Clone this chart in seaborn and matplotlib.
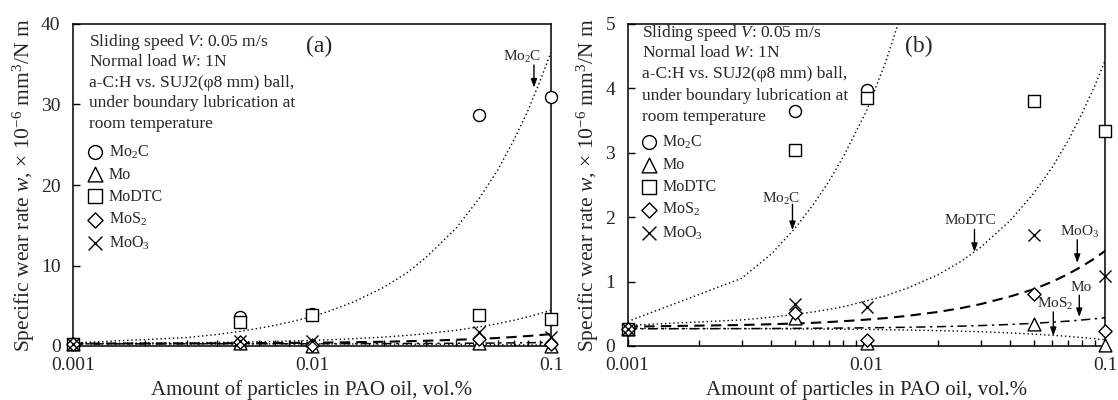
import matplotlib
matplotlib.use('Agg')
import numpy as np
import matplotlib.pyplot as plt
import seaborn as sns
from matplotlib.ticker import NullFormatter

# measured wear rates (x 10^-6 mm3/N m)
conc = [0.001, 0.005, 0.01, 0.05, 0.1]
wear_mo2c = [0.27, 3.65, 3.97, 28.7, 30.9]
wear_mo = [0.27, 0.43, 0.05, 0.34, 0.02]
wear_modtc = [0.27, 3.04, 3.85, 3.80, 3.34]
wear_mos2 = [0.27, 0.51, 0.09, 0.81, 0.24]
wear_moo3 = [0.27, 0.65, 0.60, 1.72, 1.08]

# trend lines
fit_x = [0.001, 0.003, 0.004, 0.005, 0.006, 0.007, 0.008, 0.01, 0.012, 0.015,
         0.02, 0.025, 0.03, 0.04, 0.05, 0.06, 0.07, 0.08, 0.09, 0.1]
fit_mo2c = [0.38, 1.05, 1.43, 1.82, 2.2, 2.57, 2.94, 3.65, 4.4, 5.5,
            7.3, 9.1, 11.0, 14.6, 18.3, 21.9, 25.6, 29.2, 32.9, 36.5]
fit_modtc = [0.32, 0.405, 0.447, 0.49, 0.53, 0.57, 0.61, 0.70, 0.78, 0.905,
             1.11, 1.32, 1.53, 1.95, 2.37, 2.78, 3.2, 3.62, 4.03, 4.45]
fit_moo3 = [0.30, 0.326, 0.338, 0.35, 0.36, 0.373, 0.385, 0.41, 0.433, 0.47,
            0.53, 0.59, 0.65, 0.77, 0.88, 1.0, 1.12, 1.24, 1.36, 1.48]
fit_mo = [0.267, 0.27, 0.272, 0.274, 0.276, 0.277, 0.279, 0.282, 0.286, 0.291,
          0.30, 0.309, 0.317, 0.335, 0.352, 0.37, 0.387, 0.405, 0.422, 0.44]
fit_mos2 = [0.273, 0.27, 0.268, 0.266, 0.264, 0.262, 0.261, 0.257, 0.253, 0.248,
            0.239, 0.23, 0.221, 0.203, 0.185, 0.167, 0.149, 0.131, 0.113, 0.095]

x_ticks = [0.001, 0.01, 0.1]
x_tick_labels = ['0.001', '0.01', '0.1']

info_lines = [
    'Sliding speed $V$: 0.05 m/s',
    'Normal load $W$: 1N',
    'a-C:H vs. SUJ2(\u03c68 mm) ball,',
    'under boundary lubrication at',
    'room temperature',
]

sns.set_style('ticks')
plt.rcParams['font.family'] = ['Liberation Serif', 'DejaVu Serif']
plt.rcParams['mathtext.fontset'] = 'custom'
plt.rcParams['mathtext.rm'] = 'Liberation Serif'
plt.rcParams['mathtext.it'] = 'Liberation Serif:italic'
plt.rcParams['mathtext.bf'] = 'Liberation Serif:bold'

series = [
    ('Mo$_2$C', wear_mo2c, 'o', 75),
    ('Mo', wear_mo, '^', 85),
    ('MoDTC', wear_modtc, 's', 80),
    ('MoS$_2$', wear_mos2, 'D', 45),
    ('MoO$_3$', wear_moo3, 'x', 75),
]

trends = [
    (fit_mo2c, (0, (1, 2)), 1.0),
    (fit_modtc, (0, (1, 2)), 1.0),
    (fit_moo3, (0, (5, 3)), 1.5),
    (fit_mo, (0, (6, 3, 1.5, 3)), 1.1),
    (fit_mos2, (0, (1, 2)), 1.0),
]


def draw_panel(ax, ymax, ystep, info_pos, legend_anchor):
    ax.set_xscale('log')
    for fy, ls, lw in trends:
        sns.lineplot(x=fit_x, y=fy, ax=ax, color='black', linewidth=lw,
                     linestyle=ls, estimator=None, sort=False)
    for name, vals, marker, s in series:
        xs = [c for c, v in zip(conc, vals) if v <= ymax]
        ys = [v for v in vals if v <= ymax]
        if marker == 'x':
            sns.scatterplot(x=xs, y=ys, ax=ax, marker='x', s=s, color='black',
                            linewidth=1.0, label=name, clip_on=False, zorder=5)
        else:
            sns.scatterplot(x=xs, y=ys, ax=ax, marker=marker, s=s,
                            facecolor='white', edgecolor='black', linewidth=1.0,
                            label=name, clip_on=False, zorder=5)

    ax.set_xlim(0.001, 0.1)
    ax.set_ylim(0, ymax)
    ax.set_xticks(x_ticks, labels=x_tick_labels)
    ax.xaxis.set_minor_formatter(NullFormatter())
    ax.set_yticks(np.arange(0, ymax + ystep / 2, ystep))
    ax.tick_params(axis='both', which='both', direction='in', labelsize=14,
                   top=False, right=False, width=1.0, color='black')
    ax.tick_params(axis='x', which='major', length=5, pad=8)
    ax.tick_params(axis='x', which='minor', length=4)
    ax.tick_params(axis='y', which='major', length=5, pad=9)
    for sp in ax.spines.values():
        sp.set_linewidth(1.1)
        sp.set_color('black')

    ax.set_xlabel('Amount of particles in PAO oil, vol.%', fontsize=15, labelpad=4)
    ax.set_ylabel('Specific wear rate $w$, \u00d7 10$^{-6}$ mm$^{3}$/N m',
                  fontsize=15.5, labelpad=3)

    x0, ys0 = info_pos
    for line, yy in zip(info_lines, ys0):
        ax.text(x0, yy, line, transform=ax.transAxes, fontsize=12.5,
                ha='left', va='center')

    ax.legend(loc='upper left', bbox_to_anchor=legend_anchor, frameon=False,
              fontsize=11.5, markerscale=1.15, handlelength=1.0, handletextpad=0.35,
              labelspacing=0.38, borderpad=0, borderaxespad=0, scatterpoints=1)


def arrow(ax, x, y_from, y_to):
    ax.annotate('', xy=(x, y_to), xytext=(x, y_from),
                arrowprops=dict(arrowstyle='-|>,head_length=0.5,head_width=0.18',
                                color='black', lw=1.0, shrinkA=0, shrinkB=0))


fig = plt.figure(figsize=(11.18, 4.0), dpi=100)
ax_a = fig.add_axes([0.0653, 0.135, 0.4275, 0.805])
ax_b = fig.add_axes([0.5613, 0.135, 0.4275, 0.805])

draw_panel(ax_a, 40, 10, (0.033, [0.945, 0.881, 0.818, 0.754, 0.689]), (0.030, 0.630))
draw_panel(ax_b, 5, 1, (0.030, [0.971, 0.909, 0.845, 0.776, 0.712]), (0.028, 0.660))

# panel (a) labels
ax_a.text(0.01076, 37.2, '(a)', fontsize=17, ha='center', va='center')
ax_a.text(0.0761, 35.9, 'Mo$_2$C', fontsize=11, ha='center', va='center')
arrow(ax_a, 0.0849, 34.9, 32.1)

# panel (b) labels
ax_b.text(0.01656, 4.65, '(b)', fontsize=17, ha='center', va='center')
ax_b.text(0.0044, 2.29, 'Mo$_2$C', fontsize=11, ha='center', va='center')
arrow(ax_b, 0.0049, 2.20, 1.80)
ax_b.text(0.0271, 1.95, 'MoDTC', fontsize=11, ha='center', va='center')
arrow(ax_b, 0.0283, 1.81, 1.46)
ax_b.text(0.0782, 1.77, 'MoO$_3$', fontsize=11, ha='center', va='center')
arrow(ax_b, 0.0762, 1.65, 1.29)
ax_b.text(0.079, 0.91, 'Mo', fontsize=11, ha='center', va='center')
arrow(ax_b, 0.0777, 0.79, 0.45)
ax_b.text(0.0615, 0.65, 'MoS$_2$', fontsize=11, ha='center', va='center')
arrow(ax_b, 0.0605, 0.53, 0.155)

fig.savefig('out.png', dpi=100)
